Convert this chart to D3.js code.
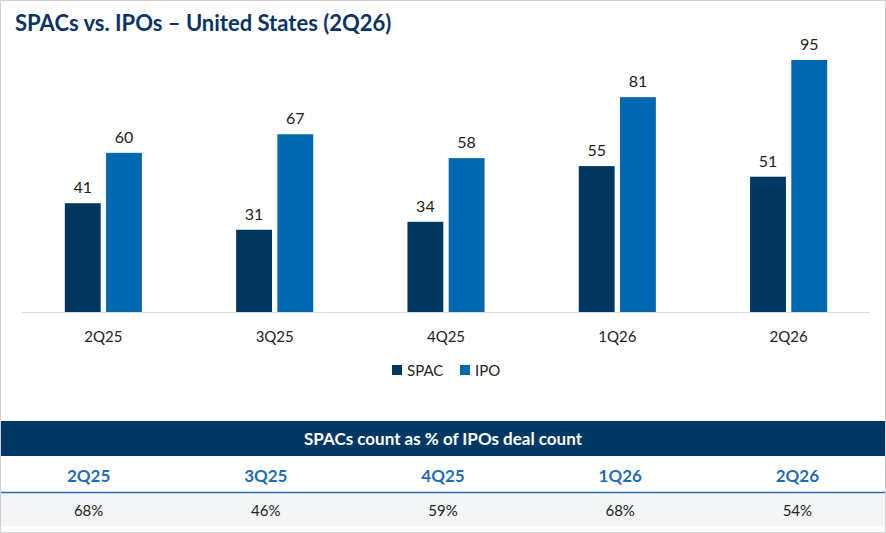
<!DOCTYPE html>
<html><head><meta charset="utf-8">
<script src="https://cdn.jsdelivr.net/npm/d3@7"></script>
<style>body{margin:0;background:#fff}svg{display:block;font-family:Lato,"Open Sans",sans-serif}</style>
</head><body><div id="container"></div>
<script>
const quarters = ["2Q25", "3Q25", "4Q25", "1Q26", "2Q26"];
const spac = [41, 31, 34, 55, 51];
const ipo = [60, 67, 58, 81, 95];
const pct = ["68%", "46%", "59%", "68%", "54%"];
const seriesNames = ["SPAC", "IPO"];

const width = 886, height = 533;
const colors = { SPAC: "#00365f", IPO: "#0067b1" };

const svg = d3.select("#container").append("svg")
  .attr("width", width).attr("height", height);

svg.append("rect").attr("x", 0.5).attr("y", 0.5).attr("width", width - 1).attr("height", height - 1)
  .attr("fill", "#fff").attr("stroke", "#d0d0d0");

svg.append("text").attr("x", 15).attr("y", 31)
  .attr("font-size", 22).attr("font-weight", 700).attr("fill", "#0a3463")
  .text("SPACs vs. IPOs – United States (2Q26)");

const x0 = d3.scaleBand().domain(quarters).range([22, 870]).paddingInner(0.55).paddingOuter(0.25);
const x1 = d3.scaleBand().domain(seriesNames).range([0, x0.bandwidth()]).paddingInner(0.13);
const y = d3.scaleLinear().domain([0, 95]).range([312, 60]);

svg.append("line").attr("x1", 22).attr("x2", 870).attr("y1", 312.5).attr("y2", 312.5)
  .attr("stroke", "#d9d9d9");

const rows = quarters.map((q, i) => ({ q, vals: [{ k: "SPAC", v: spac[i] }, { k: "IPO", v: ipo[i] }] }));
const g = svg.selectAll("g.grp").data(rows).join("g")
  .attr("transform", d => `translate(${x0(d.q)},0)`);
g.selectAll("rect").data(d => d.vals).join("rect")
  .attr("x", d => x1(d.k)).attr("width", x1.bandwidth())
  .attr("y", d => y(d.v)).attr("height", d => y(0) - y(d.v))
  .attr("fill", d => colors[d.k]);
g.selectAll("text").data(d => d.vals).join("text")
  .attr("x", d => x1(d.k) + x1.bandwidth() / 2).attr("y", d => y(d.v) - 10)
  .attr("text-anchor", "middle").attr("font-size", 16).attr("fill", "#222")
  .text(d => d.v);

svg.append("g").selectAll("text").data(quarters).join("text")
  .attr("x", d => x0(d) + x0.bandwidth() / 2).attr("y", 342)
  .attr("text-anchor", "middle").attr("font-size", 15).attr("fill", "#222").text(d => d);

const leg = svg.append("g").attr("transform", "translate(392,370)");
seriesNames.forEach((s, i) => {
  const lg = leg.append("g").attr("transform", `translate(${i * 68},0)`);
  lg.append("rect").attr("x", 0).attr("y", -5).attr("width", 10).attr("height", 10).attr("fill", colors[s]);
  lg.append("text").attr("x", 15).attr("y", 5.5).attr("font-size", 15).attr("fill", "#222").text(s);
});

// table
svg.append("rect").attr("x", 1).attr("y", 421).attr("width", width - 2).attr("height", 35).attr("fill", "#003865");
svg.append("text").attr("x", width / 2).attr("y", 445).attr("text-anchor", "middle")
  .attr("font-size", 17).attr("font-weight", 700).attr("fill", "#fff").text("SPACs count as % of IPOs deal count");
svg.append("rect").attr("x", 1).attr("y", 493).attr("width", width - 2).attr("height", 33).attr("fill", "#f4f5f7");
svg.append("line").attr("x1", 1).attr("x2", width - 1).attr("y1", 492.5).attr("y2", 492.5)
  .attr("stroke", "#1f6db3").attr("stroke-width", 1.5);
const tx = d3.scaleBand().domain(quarters).range([0, width]);
svg.append("g").selectAll("text").data(quarters).join("text")
  .attr("x", d => tx(d) + tx.bandwidth() / 2).attr("y", 482).attr("text-anchor", "middle")
  .attr("font-size", 17).attr("font-weight", 700).attr("fill", "#1f6db3").text(d => d);
svg.append("g").selectAll("text").data(pct).join("text")
  .attr("x", (d, i) => tx(quarters[i]) + tx.bandwidth() / 2).attr("y", 516).attr("text-anchor", "middle")
  .attr("font-size", 15).attr("fill", "#222").text(d => d);
</script></body></html>
